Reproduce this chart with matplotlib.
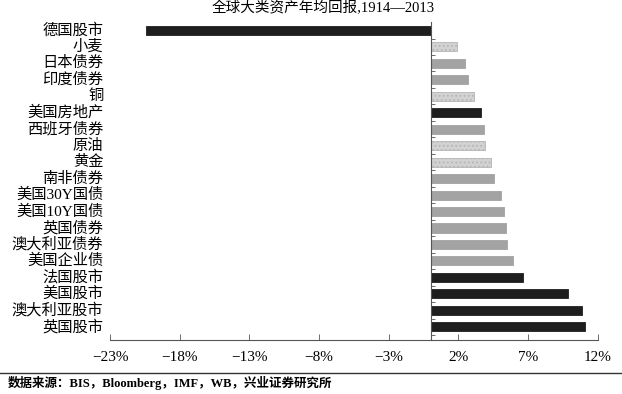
import matplotlib.pyplot as plt
import matplotlib.transforms as mtransforms
import numpy as np

plt.rcParams['font.family'] = ['Liberation Serif', 'Noto Sans CJK SC']
plt.rcParams['hatch.color'] = '#ffffff'
plt.rcParams['hatch.linewidth'] = 0.8

# 资产类别（从上到下）与年均回报 %
assets = ['德国股市', '小麦', '日本债券', '印度债券', '铜', '美国房地产', '西班牙债券',
          '原油', '黄金', '南非债券', '美国30Y国债', '美国10Y国债', '英国债券',
          '澳大利亚债券', '美国企业债', '法国股市', '美国股市', '澳大利亚股市', '英国股市']
returns = [-20.4, 1.9, 2.5, 2.7, 3.15, 3.65, 3.85, 3.9, 4.35, 4.55, 5.05, 5.25, 5.4,
           5.5, 5.95, 6.6, 9.9, 10.9, 11.1]
kind = ['stock', 'comm', 'bond', 'bond', 'comm', 'stock', 'bond', 'comm', 'comm', 'bond',
        'bond', 'bond', 'bond', 'bond', 'bond', 'stock', 'stock', 'stock', 'stock']
xticks = [-23, -18, -13, -8, -3, 2, 7, 12]

colors = {'stock': '#1e1e1e', 'bond': '#a3a3a3', 'comm': '#d2d2d2'}
edges = {'stock': '#1e1e1e', 'bond': '#a3a3a3', 'comm': '#b5b5b5'}
hatches = {'stock': None, 'bond': '....', 'comm': '....'}

fig = plt.figure(figsize=(6.22, 3.94), dpi=100)
ax = fig.add_axes([0.177, 0.137, 0.784, 0.807])

n = len(assets)
y = np.arange(n)[::-1]
for yi, v, k in zip(y, returns, kind):
    ax.barh(yi, v, height=0.55, color=colors[k], hatch=hatches[k],
            edgecolor=edges[k], linewidth=0.6)

ax.set_xlim(-23, 12)
ax.set_ylim(-0.8, n - 0.5)

ax.spines['top'].set_visible(False)
ax.spines['right'].set_visible(False)
ax.spines['left'].set_position(('data', 0))
ax.spines['left'].set_color('#555555')
ax.spines['bottom'].set_color('#555555')
ax.spines['left'].set_linewidth(0.8)
ax.spines['bottom'].set_linewidth(0.8)

ax.set_yticks(np.arange(n) - 0.5)
ax.set_yticklabels([])
ax.tick_params(axis='y', direction='in', length=3, color='#555555', width=0.6)

ax.set_xticks(xticks)
ax.set_xticklabels(['\u2212%d%%' % -t if t < 0 else '%d%%' % t for t in xticks],
                   fontsize=11)
ax.tick_params(axis='x', direction='in', length=4, color='#555555', width=0.6, pad=8)

trans = mtransforms.blended_transform_factory(ax.transAxes, ax.transData)
for yi, name in zip(y, assets):
    ax.text(-0.014, yi, name, transform=trans, ha='right', va='center', fontsize=11)

fig.text(0.52, 0.98, '全球大类资产年均回报,1914—2013', ha='center', va='center', fontsize=10.5)

fig.add_artist(plt.Line2D([0, 1], [0.053, 0.053], color='#333333', linewidth=1.0))
fig.text(0.013, 0.027, '数据来源：BIS，Bloomberg，IMF，WB，兴业证券研究所', ha='left',
         va='center', fontsize=9, fontweight='bold')

fig.savefig('out.png', dpi=100)
